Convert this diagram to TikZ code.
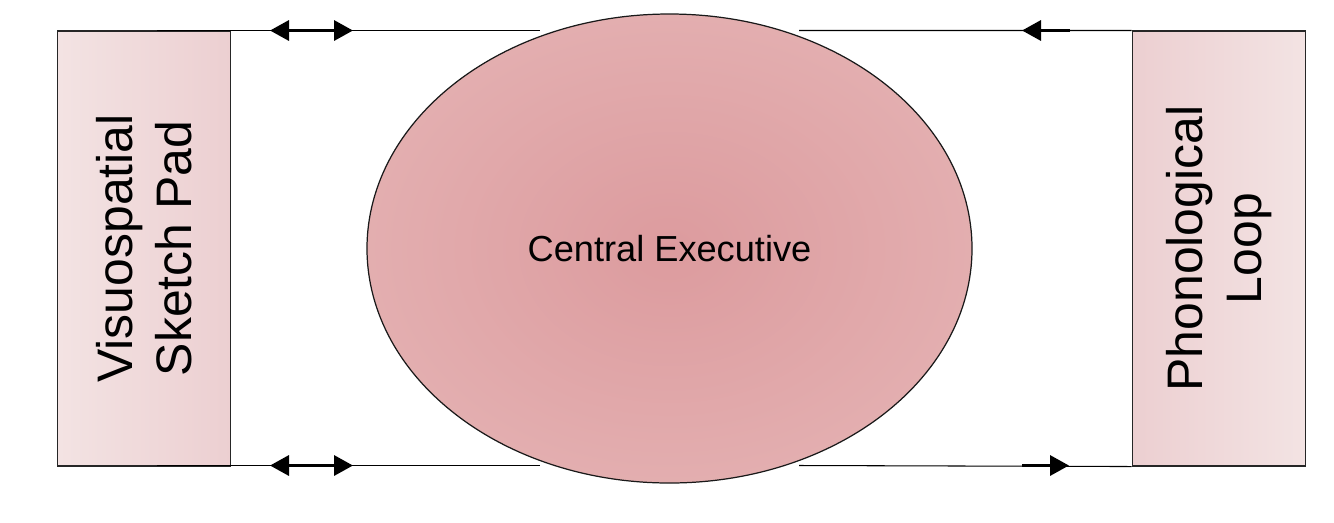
\documentclass[tikz,border=0pt]{standalone}
\usepackage{fontspec}
\setmainfont{Liberation Sans}
\usetikzlibrary{arrows.meta,positioning,shapes.geometric}
\definecolor{ceIn}{RGB}{220,155,158}
\definecolor{ceOut}{RGB}{234,193,193}
\definecolor{padLight}{RGB}{243,227,227}
\definecolor{padDark}{RGB}{236,207,209}
\pgfdeclareradialshading{execglow}{\pgfpoint{0bp}{0bp}}{color(0bp)=(ceIn); color(50bp)=(ceOut); color(72bp)=(ceOut)}

\begin{document}
\begin{tikzpicture}[
    pad/.style={draw=black!85, line width=0.6pt, minimum width=3.46cm, minimum height=8.70cm, inner sep=0pt},
    padtext/.style={rotate=90, align=center, font=\fontsize{28.4}{33.5}\selectfont},
    exec/.style={ellipse, draw=black!90, line width=0.7pt, shade, shading=execglow, minimum width=12.10cm, minimum height=9.38cm, inner sep=0pt, font=\fontsize{20.6}{24}\selectfont},
    wire/.style={line width=0.6pt},
    arr/.style={line width=1.9pt, {Triangle[length=0.38cm,width=0.40cm]}-{Triangle[length=0.38cm,width=0.40cm]}},
    arrone/.style={line width=1.9pt, -{Triangle[length=0.38cm,width=0.40cm]}}
]
\useasboundingbox (0,0) rectangle (26.68,-10.44);
\node[exec] (ce) at (13.39,-4.97) {Central Executive};
\node[pad, left=2.70cm of ce, left color=padLight, right color=padDark] (vsp) {};
\node[pad, right=3.18cm of ce, left color=padDark, right color=padLight] (pl) {};
\node[padtext] (vspt) at (vsp) {Visuospatial\\Sketch Pad};
\node[padtext] (plt) at (pl) {Phonological\\Loop};
\coordinate (vtop) at (3.14,-0.61);
\coordinate (vbot) at (3.14,-9.31);
\coordinate (ctl) at (10.80,-0.61);
\coordinate (cbl) at (10.80,-9.31);
\coordinate (ctr) at (15.98,-0.61);
\coordinate (cbr) at (15.98,-9.31);
\draw[wire] (vtop) -- (ctl);
\draw[wire] (vbot) -- (cbl);
\draw[wire] (pl.north west) -- (ctr);
\draw[wire] (pl.south west) -- (cbr);
\coordinate (tla) at (5.40,-0.61);
\coordinate (tlb) at (7.06,-0.61);
\coordinate (bla) at (5.40,-9.31);
\coordinate (blb) at (7.06,-9.31);
\coordinate (tra) at (21.40,-0.61);
\coordinate (trb) at (20.44,-0.61);
\coordinate (bra) at (20.44,-9.31);
\coordinate (brb) at (21.38,-9.31);
\draw[arr] (tla) -- (tlb);
\draw[arr] (bla) -- (blb);
\draw[arrone] (tra) -- (trb);
\draw[arrone] (bra) -- (brb);
\end{tikzpicture}
\end{document}
